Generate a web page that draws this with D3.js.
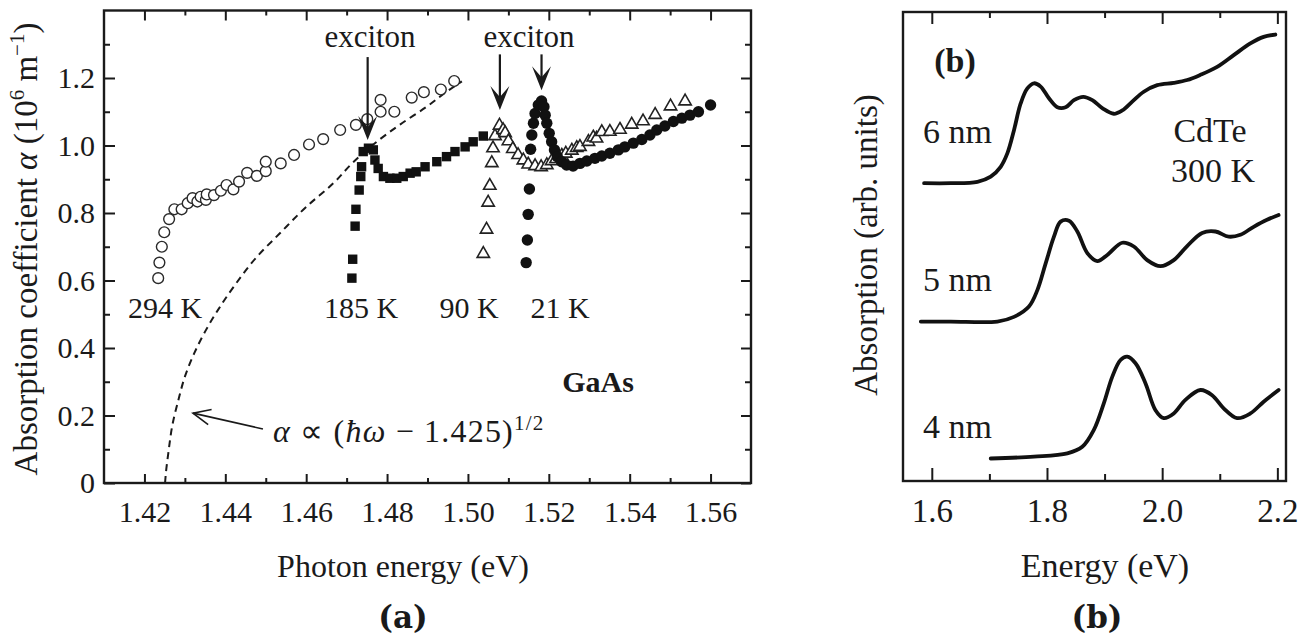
<!DOCTYPE html>
<html>
<head>
<meta charset="utf-8">
<script src="https://cdn.jsdelivr.net/npm/d3@7"></script>
<style>
  body { margin: 0; background: #fff; }
  svg { display: block; }
</style>
</head>
<body>
<svg id="chart" width="1308" height="635"></svg>
<script>
// ---- data ----
// panel (a) GaAs absorption, [photon energy eV, alpha 10^6 m^-1]
var k294 = [[1.4234,0.607],[1.4237,0.653],[1.4243,0.700],[1.4249,0.743],[1.4261,0.782],[1.4274,0.811],
  [1.4292,0.811],[1.4307,0.829],[1.4319,0.844],[1.4331,0.834],[1.4339,0.848],[1.4352,0.839],[1.4354,0.855],
  [1.4372,0.853],[1.4389,0.866],[1.4403,0.883],[1.4420,0.870],[1.4434,0.893],[1.4454,0.919],[1.4478,0.910],
  [1.4500,0.924],[1.4500,0.952],[1.4537,0.947],[1.4570,0.972],[1.4607,1.003],[1.4642,1.019],[1.4684,1.046],
  [1.4723,1.061],[1.4751,1.078],[1.4784,1.135],[1.4784,1.100],[1.4818,1.100],[1.4861,1.142],[1.4891,1.158],
  [1.4933,1.166],[1.4966,1.191]];
var k185 = [[1.4713,0.607],[1.4715,0.663],[1.4721,0.761],[1.4723,0.811],[1.4731,0.868],[1.4735,0.908],
  [1.4737,0.937],[1.4741,0.982],[1.4754,0.992],[1.4766,0.987],[1.4770,0.957],[1.4778,0.932],[1.4791,0.908],
  [1.4807,0.903],[1.4824,0.903],[1.4840,0.908],[1.4857,0.918],[1.4872,0.922],[1.4894,0.937],[1.4923,0.952],
  [1.4947,0.967],[1.4968,0.982],[1.4993,0.996],[1.5013,1.011],[1.5038,1.028]];
var k90 = [[1.5038,0.679],[1.5046,0.751],[1.5050,0.831],[1.5054,0.881],[1.5059,0.948],[1.5062,0.992],
  [1.5067,1.028],[1.5078,1.059],[1.5087,1.046],[1.5092,1.037],[1.5100,1.013],[1.5111,0.990],[1.5124,0.972],
  [1.5137,0.956],[1.5149,0.944],[1.5166,0.939],[1.5181,0.936],[1.5195,0.942],[1.5207,0.954],[1.5218,0.960],
  [1.5232,0.970],[1.5242,0.976],[1.5257,0.985],[1.5269,0.993],[1.5277,0.996],[1.5298,1.011],[1.5310,1.024],
  [1.5318,1.021],[1.5331,1.040],[1.5351,1.041],[1.5376,1.047],[1.5405,1.062],[1.5433,1.072],[1.5463,1.091],
  [1.5501,1.116],[1.5537,1.131]];
var k21 = [[1.5144,0.653],[1.5147,0.720],[1.5149,0.796],[1.5152,0.871],[1.5155,0.989],[1.5158,1.031],
  [1.5162,1.066],[1.5166,1.095],[1.5174,1.120],[1.5182,1.132],[1.5188,1.115],[1.5191,1.090],[1.5195,1.066],
  [1.5201,1.036],[1.5207,1.011],[1.5214,0.987],[1.5221,0.967],[1.5232,0.952],[1.5244,0.942],[1.5260,0.939],
  [1.5277,0.947],[1.5294,0.954],[1.5314,0.962],[1.5331,0.969],[1.5351,0.977],[1.5372,0.987],[1.5388,0.996],
  [1.5409,1.007],[1.5430,1.018],[1.5450,1.031],[1.5467,1.046],[1.5487,1.058],[1.5508,1.071],[1.5529,1.081],
  [1.5549,1.090],[1.5570,1.100],[1.5600,1.120]];
// dashed square-root edge
var sqrtEdge = [[1.4251,0],[1.4253,0.029],[1.4259,0.088],[1.4270,0.177],[1.4284,0.246],[1.4300,0.315],
  [1.4323,0.384],[1.4352,0.453],[1.4382,0.513],[1.4424,0.587],[1.4478,0.670],[1.4535,0.740],[1.4601,0.819],
  [1.4667,0.888],[1.4716,0.950],[1.4766,1.003],[1.4832,1.062],[1.4898,1.115],[1.4947,1.159],[1.4985,1.190]];
// exciton arrows [energy, alpha of tail, alpha of tip]
var excitonArrows = [[1.4752,1.262,1.016],[1.5079,1.270,1.105],[1.5182,1.270,1.164]];

var xMajorA = [1.42,1.44,1.46,1.48,1.50,1.52,1.54,1.56];
var xMinorA = [1.43,1.45,1.47,1.49,1.51,1.53,1.55];
var yMajorA = [0,0.2,0.4,0.6,0.8,1.0,1.2];
var yMinorA = [0.1,0.3,0.5,0.7,0.9,1.1,1.3];

// panel (b) CdTe nanocrystals, [energy eV, absorption arb. units]
var nm6 = [[1.5866,6.35],[1.6329,6.35],[1.6792,6.38],[1.7023,6.49],[1.7196,6.70],[1.7313,6.99],[1.7427,7.48],
  [1.7543,8.05],[1.7659,8.37],[1.7774,8.48],[1.7890,8.41],[1.8034,8.16],[1.8180,7.97],[1.8324,7.97],
  [1.8468,8.12],[1.8631,8.19],[1.8787,8.12],[1.8960,7.95],[1.9161,7.83],[1.9307,7.90],[1.9480,8.09],
  [1.9681,8.30],[1.9914,8.44],[2.0201,8.49],[2.0434,8.55],[2.0664,8.66],[2.0954,8.83],[2.1242,9.08],
  [2.1531,9.33],[2.1762,9.47],[2.1965,9.52]];
var nm5 = [[1.5809,3.40],[1.6329,3.40],[1.7139,3.40],[1.7427,3.50],[1.7687,3.72],[1.7833,4.07],[1.7977,4.64],
  [1.8121,5.21],[1.8237,5.53],[1.8381,5.55],[1.8527,5.32],[1.8700,4.86],[1.8873,4.69],[1.9047,4.82],
  [1.9307,5.08],[1.9508,5.00],[1.9740,4.71],[1.9971,4.58],[2.0201,4.71],[2.0434,5.01],[2.0694,5.29],
  [2.0924,5.32],[2.1155,5.21],[2.1358,5.25],[2.1589,5.42],[2.1821,5.57],[2.2022,5.67]];
var nm4 = [[1.7023,0.48],[1.7774,0.52],[1.8353,0.59],[1.8613,0.73],[1.8814,1.09],[1.8988,1.66],[1.9133,2.22],
  [1.9277,2.58],[1.9393,2.65],[1.9537,2.51],[1.9711,2.08],[1.9884,1.51],[2.0028,1.34],[2.0201,1.44],
  [2.0404,1.73],[2.0664,1.94],[2.0867,1.83],[2.1068,1.55],[2.1301,1.34],[2.1531,1.44],[2.1762,1.69],
  [2.2022,1.94]];
var xMajorB = [1.6,1.8,2.0,2.2];
var xMinorB = [1.7,1.9,2.1];

var serif = "'Liberation Serif','Times New Roman',serif";
var ink = "#1a1a1a";
var svg = d3.select("#chart");

function styleAxis(g, size) {
  g.select(".domain").remove();
  g.selectAll("line").attr("stroke", ink).attr("stroke-width", 2);
  g.attr("font-family", serif).attr("font-size", size);
  g.selectAll("text").attr("fill", ink);
}
function frame(x, y) {
  svg.append("rect")
    .attr("x", x.range()[0]).attr("y", y.range()[1])
    .attr("width", x.range()[1] - x.range()[0])
    .attr("height", y.range()[0] - y.range()[1])
    .attr("fill", "none").attr("stroke", ink).attr("stroke-width", 2.4);
}

// ================= panel (a) =================
var xa = d3.scaleLinear().domain([1.41, 1.57]).range([104, 751]);
var ya = d3.scaleLinear().domain([0, 1.4]).range([483, 10.5]);

var fmtY = function(d) { return d === 0 ? "0" : d.toFixed(1); };
svg.append("g").attr("transform", "translate(0," + ya.range()[0] + ")")
  .call(d3.axisBottom(xa).tickValues(xMajorA).tickSize(-9).tickPadding(18).tickFormat(d3.format(".2f")))
  .call(styleAxis, 30);
svg.append("g").attr("transform", "translate(0," + ya.range()[0] + ")")
  .call(d3.axisBottom(xa).tickValues(xMinorA).tickSize(-5).tickFormat(""))
  .call(styleAxis, 30);
svg.append("g").attr("transform", "translate(0," + ya.range()[1] + ")")
  .call(d3.axisTop(xa).tickValues(xMajorA).tickSize(-10).tickFormat(""))
  .call(styleAxis, 30);
svg.append("g").attr("transform", "translate(0," + ya.range()[1] + ")")
  .call(d3.axisTop(xa).tickValues(xMinorA).tickSize(-5).tickFormat(""))
  .call(styleAxis, 30);
svg.append("g").attr("transform", "translate(" + xa.range()[0] + ",0)")
  .call(d3.axisLeft(ya).tickValues(yMajorA).tickSize(-11).tickPadding(9).tickFormat(fmtY))
  .call(styleAxis, 30);
svg.append("g").attr("transform", "translate(" + xa.range()[0] + ",0)")
  .call(d3.axisLeft(ya).tickValues(yMinorA).tickSize(-6).tickFormat(""))
  .call(styleAxis, 30);
svg.append("g").attr("transform", "translate(" + xa.range()[1] + ",0)")
  .call(d3.axisRight(ya).tickValues(yMajorA).tickSize(-10).tickFormat(""))
  .call(styleAxis, 30);
svg.append("g").attr("transform", "translate(" + xa.range()[1] + ",0)")
  .call(d3.axisRight(ya).tickValues(yMinorA).tickSize(-6).tickFormat(""))
  .call(styleAxis, 30);
frame(xa, ya);

// dashed sqrt law
var lineA = d3.line().x(function(d) { return xa(d[0]); }).y(function(d) { return ya(d[1]); })
  .curve(d3.curveMonotoneY);
svg.append("path").datum(sqrtEdge).attr("d", lineA)
  .attr("fill", "none").attr("stroke", ink).attr("stroke-width", 2).attr("stroke-dasharray", "7,5");

// 294 K open circles
svg.append("g").selectAll("circle").data(k294).enter().append("circle")
  .attr("cx", function(d) { return xa(d[0]); }).attr("cy", function(d) { return ya(d[1]); })
  .attr("r", 5.4).attr("fill", "#fff").attr("stroke", "#2a2a2a").attr("stroke-width", 1.4);

// 185 K filled squares
svg.append("g").selectAll("rect").data(k185).enter().append("rect")
  .attr("x", function(d) { return xa(d[0]) - 4.7; }).attr("y", function(d) { return ya(d[1]) - 4.7; })
  .attr("width", 9.4).attr("height", 9.4).attr("fill", "#111");

// 90 K open triangles
var tri = d3.symbol().type(d3.symbolTriangle).size(66);
svg.append("g").selectAll("path").data(k90).enter().append("path")
  .attr("d", tri)
  .attr("transform", function(d) { return "translate(" + xa(d[0]) + "," + ya(d[1]) + ")"; })
  .attr("fill", "#fff").attr("stroke", "#222").attr("stroke-width", 1.6);

// 21 K filled circles
svg.append("g").selectAll("circle").data(k21).enter().append("circle")
  .attr("cx", function(d) { return xa(d[0]); }).attr("cy", function(d) { return ya(d[1]); })
  .attr("r", 5.7).attr("fill", "#111");

// exciton arrows
excitonArrows.forEach(function(a) {
  var x = xa(a[0]), y0 = ya(a[1]), y1 = ya(a[2]);
  svg.append("line").attr("x1", x).attr("x2", x).attr("y1", y0).attr("y2", y1 - 10)
    .attr("stroke", ink).attr("stroke-width", 2.2);
  svg.append("path")
    .attr("d", "M" + x + "," + y1 + "L" + (x - 9.5) + "," + (y1 - 24) + "L" + x + "," + (y1 - 13) +
      "L" + (x + 9.5) + "," + (y1 - 24) + "Z")
    .attr("fill", ink);
});

// arrow pointing at dashed curve
var tipE = 1.4320, tipA = 0.207, tailE = 1.4493, tailA = 0.160;
(function() {
  var x1 = xa(tailE), y1 = ya(tailA), x2 = xa(tipE), y2 = ya(tipA);
  var ang = Math.atan2(y1 - y2, x1 - x2), L = 19, sp = 0.42;
  svg.append("line").attr("x1", x1).attr("y1", y1).attr("x2", x2).attr("y2", y2)
    .attr("stroke", ink).attr("stroke-width", 1.6);
  svg.append("path")
    .attr("d", "M" + (x2 + L * Math.cos(ang + sp)) + "," + (y2 + L * Math.sin(ang + sp)) +
      "L" + x2 + "," + y2 + "L" + (x2 + L * Math.cos(ang - sp)) + "," + (y2 + L * Math.sin(ang - sp)))
    .attr("fill", "none").attr("stroke", ink).attr("stroke-width", 1.6);
})();

var txt = svg.append("g").attr("font-family", serif).attr("fill", ink);
function label(x, y, s, size, anchor) {
  return txt.append("text").attr("x", x).attr("y", y).attr("font-size", size)
    .attr("text-anchor", anchor || "middle").text(s);
}
label(370, 47, "exciton", 31);
label(529, 47, "exciton", 31);
label(165, 318, "294 K", 30);
label(361, 318, "185 K", 30);
label(469, 318, "90 K", 30);
label(560, 318, "21 K", 30);
label(598, 392, "GaAs", 30).attr("font-weight", "bold");

var f = txt.append("text").attr("x", 273).attr("y", 442).attr("font-size", 32)
  .attr("letter-spacing", 1.2);
f.append("tspan").attr("font-style", "italic").text("α");
f.append("tspan").text(" ∝ (");
f.append("tspan").attr("font-style", "italic").text("ħω");
f.append("tspan").text(" − 1.425)");
f.append("tspan").attr("font-size", 21).attr("dy", -12).text("1/2");

label(403, 577, "Photon energy (eV)", 32);
var yt = txt.append("text").attr("transform", "translate(37,249) rotate(-90)")
  .attr("text-anchor", "middle").attr("font-size", 33);
yt.append("tspan").text("Absorption coefficient ");
yt.append("tspan").attr("font-style", "italic").text("α");
yt.append("tspan").text("  (10");
yt.append("tspan").attr("font-size", 21).attr("dy", -13).text("6");
yt.append("tspan").attr("dy", 13).text(" m");
yt.append("tspan").attr("font-size", 21).attr("dy", -13).text("−1");
yt.append("tspan").attr("dy", 13).text(")");

txt.append("text").attr("x", 403).attr("y", 628).attr("text-anchor", "middle")
  .attr("font-family", "'DejaVu Serif',serif").attr("font-weight", "bold").attr("font-size", 31).text("(a)");

// ================= panel (b) =================
var xb = d3.scaleLinear().domain([1.55, 2.215]).range([903, 1286]);
var yb = d3.scaleLinear().domain([0, 10]).range([481, 12]);

svg.append("g").attr("transform", "translate(0," + yb.range()[0] + ")")
  .call(d3.axisBottom(xb).tickValues(xMajorB).tickSize(-13).tickPadding(18).tickFormat(d3.format(".1f")))
  .call(styleAxis, 33);
svg.append("g").attr("transform", "translate(0," + yb.range()[0] + ")")
  .call(d3.axisBottom(xb).tickValues(xMinorB).tickSize(-7).tickFormat(""))
  .call(styleAxis, 33);
svg.append("g").attr("transform", "translate(0," + yb.range()[1] + ")")
  .call(d3.axisTop(xb).tickValues(xMajorB).tickSize(-12).tickFormat(""))
  .call(styleAxis, 33);
svg.append("g").attr("transform", "translate(0," + yb.range()[1] + ")")
  .call(d3.axisTop(xb).tickValues(xMinorB).tickSize(-6).tickFormat(""))
  .call(styleAxis, 33);
frame(xb, yb);

var lineB = d3.line().x(function(d) { return xb(d[0]); }).y(function(d) { return yb(d[1]); })
  .curve(d3.curveCatmullRom.alpha(0.5));
[nm6, nm5, nm4].forEach(function(s) {
  svg.append("path").datum(s).attr("d", lineB)
    .attr("fill", "none").attr("stroke", "#111").attr("stroke-width", 3.8)
    .attr("stroke-linecap", "round").attr("stroke-linejoin", "round");
});

label(955, 72, "(b)", 34).attr("font-weight", "bold");
label(923, 143, "6 nm", 34, "start");
label(923, 291, "5 nm", 34, "start");
label(923, 438, "4 nm", 34, "start");
label(1210, 142, "CdTe", 34);
label(1213, 182, "300 K", 34);
label(1105, 577, "Energy (eV)", 34);
txt.append("text").attr("transform", "translate(877,245) rotate(-90)")
  .attr("text-anchor", "middle").attr("font-size", 33).text("Absorption (arb. units)");
txt.append("text").attr("x", 1097).attr("y", 628).attr("text-anchor", "middle")
  .attr("font-family", "'DejaVu Serif',serif").attr("font-weight", "bold").attr("font-size", 31).text("(b)");
</script>
</body>
</html>
